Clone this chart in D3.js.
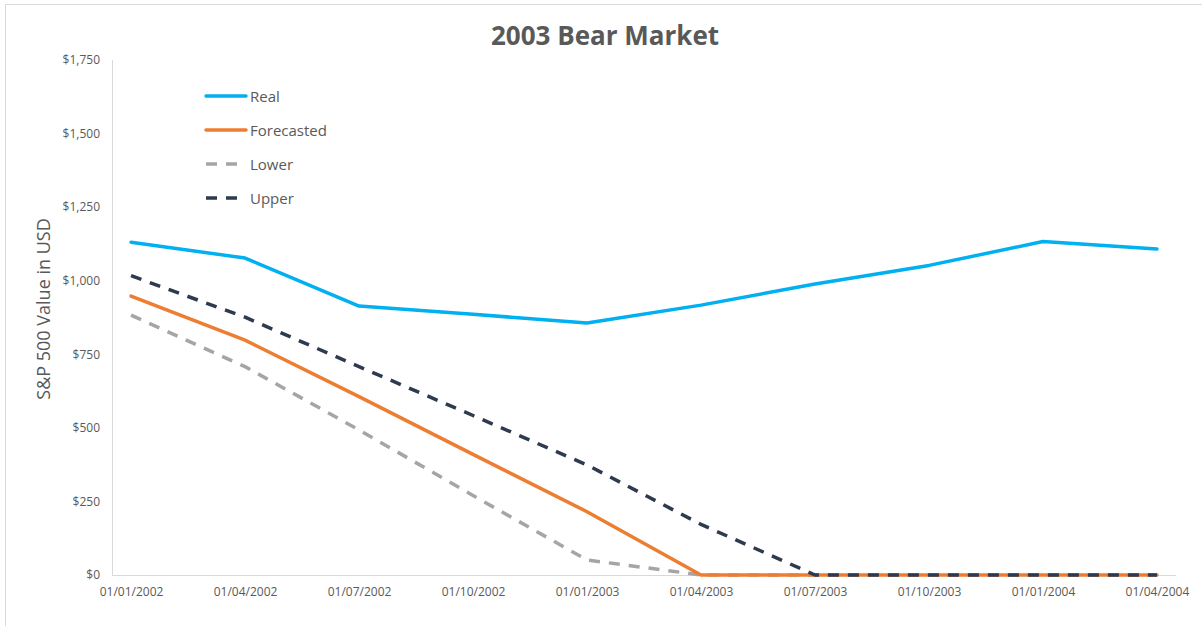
<!DOCTYPE html>
<html>
<head>
<meta charset="utf-8">
<script src="https://cdn.jsdelivr.net/npm/d3@7/dist/d3.min.js"></script>
<style>
  html, body { margin: 0; padding: 0; background: #fff; }
  svg { display: block; }
  text { font-family: "Open Sans", Lato, sans-serif; fill: #595959; }
</style>
</head>
<body>
<svg id="chart" width="1202" height="626"></svg>
<script>
const categories = ["01/01/2002","01/04/2002","01/07/2002","01/10/2002","01/01/2003","01/04/2003","01/07/2003","01/10/2003","01/01/2004","01/04/2004"];
const realValues = [1131, 1077, 914, 886, 856, 917, 989, 1052, 1133, 1108];
const forecastValues = [948, 798, 606, 410, 215, 0, 0, 0, 0, 0];
const lowerValues = [883, 708, 493, 270, 51, 0, 0, 0, 0, 0];
const upperValues = [1017, 876, 708, 542, 374, 172, 0, 0, 0, 0];
const yTicks = [0, 250, 500, 750, 1000, 1250, 1500, 1750];
const seriesNames = ["Real", "Forecasted", "Lower", "Upper"];

const series = [
  { name: seriesNames[0], values: realValues, color: "#00B0F0", dash: null },
  { name: seriesNames[1], values: forecastValues, color: "#ED7D31", dash: null },
  { name: seriesNames[2], values: lowerValues, color: "#A5A5A5", dash: "11,9" },
  { name: seriesNames[3], values: upperValues, color: "#2E3A4F", dash: "11,9" }
];
const drawOrder = [2, 1, 3, 0];

const svg = d3.select("#chart");
const plotLeft = 112, plotRight = 1176, plotTop = 60, plotBottom = 575;

svg.append("rect").attr("x", 5.5).attr("y", 4.5).attr("width", 1205).attr("height", 640)
  .attr("fill", "none").attr("stroke", "#D9D9D9").attr("stroke-width", 1);

const x = d3.scalePoint().domain(categories).range([plotLeft, plotRight]).padding(0.167);
const y = d3.scaleLinear().domain([0, 1750]).range([plotBottom, plotTop]);

svg.append("line").attr("x1", plotLeft + 0.5).attr("x2", plotLeft + 0.5).attr("y1", plotTop).attr("y2", plotBottom)
  .attr("stroke", "#D9D9D9").attr("stroke-width", 1);
svg.append("line").attr("x1", plotLeft).attr("x2", plotRight).attr("y1", plotBottom + 0.5).attr("y2", plotBottom + 0.5)
  .attr("stroke", "#D9D9D9").attr("stroke-width", 1);

const yAxis = d3.axisLeft(y).tickValues(yTicks).tickSize(0).tickPadding(12)
  .tickFormat(d => "$" + d3.format(",")(d));
const gy = svg.append("g").attr("transform", `translate(${plotLeft},0)`).call(yAxis);
gy.select(".domain").remove();
gy.selectAll("text").style("font-size", "12px").attr("fill", "#595959")
  .style("font-family", "'Open Sans', sans-serif");

const xAxis = d3.axisBottom(x).tickSize(0).tickPadding(12);
const gx = svg.append("g").attr("transform", `translate(0,${plotBottom})`).call(xAxis);
gx.select(".domain").remove();
gx.selectAll("text").style("font-size", "12px").attr("fill", "#595959")
  .style("font-family", "'Open Sans', sans-serif");

const line = d3.line().x((d, i) => x(categories[i])).y(d => y(d));
drawOrder.forEach(k => {
  const s = series[k];
  svg.append("path").datum(s.values).attr("d", line)
    .attr("fill", "none").attr("stroke", s.color).attr("stroke-width", 3.5)
    .attr("stroke-linejoin", "round").attr("stroke-linecap", s.dash ? "butt" : "round")
    .attr("stroke-dasharray", s.dash);
});

svg.append("text").attr("x", 605).attr("y", 45).attr("text-anchor", "middle")
  .style("font-size", "26px").style("font-weight", "bold").text("2003 Bear Market");

svg.append("text").attr("transform", "translate(50,309) rotate(-90)").attr("text-anchor", "middle")
  .style("font-size", "18px").text("S&P 500 Value in USD");

const legendY = [96, 130, 164, 198];
series.forEach((s, i) => {
  svg.append("line").attr("x1", 206).attr("x2", 246).attr("y1", legendY[i]).attr("y2", legendY[i])
    .attr("stroke", s.color).attr("stroke-width", 3.5)
    .attr("stroke-dasharray", s.dash ? "11,9" : null)
    .attr("stroke-linecap", s.dash ? "butt" : "round");
  svg.append("text").attr("x", 250).attr("y", legendY[i] + 5.5).style("font-size", "15px").text(s.name);
});
</script>
</body>
</html>
